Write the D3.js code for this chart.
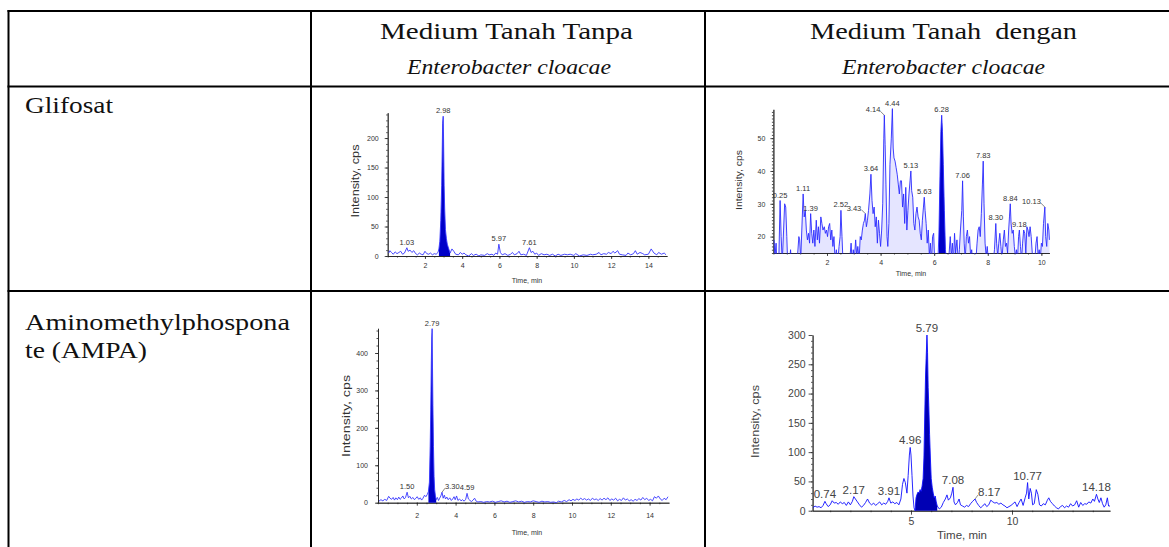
<!DOCTYPE html>
<html>
<head>
<meta charset="utf-8">
<script src="https://d3js.org/d3.v7.min.js"></script>
<style>
  body { margin: 0; background: #fff; }
  svg { display: block; }
</style>
</head>
<body>
<svg id="figure"></svg>
<script>

// ---- table text ----
const colHeads = ["Medium Tanah Tanpa", "Medium Tanah  dengan"];
const species = "Enterobacter cloacae";
const rowHeads = [["Glifosat"], ["Aminomethylphospona", "te (AMPA)"]];

// ---- Glifosat, without E. cloacae : [time min, intensity cps] ----
const glyNo = [
  [0.05,5],[0.12,9],[0.2,6],[0.3,3],[0.4,7],[0.5,4],[0.6,6],[0.7,8],[0.8,3],[0.9,5],[1.03,14],[1.1,8],[1.2,10],
  [1.3,6],[1.4,9],[1.5,4],[1.6,2],[1.7,5],[1.8,3],[1.9,2],[2.0,8],[2.1,4],[2.2,3],[2.3,5],[2.4,2],[2.5,4],[2.6,3],
  [2.7,6],[2.75,12],[2.8,25],[2.85,60],[2.9,120],[2.95,225],[2.98,237],[3.0,200],[3.03,120],[3.06,80],[3.1,45],
  [3.15,30],[3.2,20],[3.25,15],[3.3,10],[3.35,5],[3.45,12],[3.55,8],[3.65,3],[3.8,2],[3.9,6],[4.0,3],[4.1,5],
  [4.2,2],[4.35,0],[4.5,4],[4.6,1],[4.75,3],[4.9,0],[5.0,2],[5.2,1],[5.35,4],[5.45,2],[5.6,3],[5.7,1],[5.8,5],
  [5.9,3],[5.97,20],[6.05,6],[6.15,2],[6.3,4],[6.45,1],[6.6,3],[6.7,6],[6.8,2],[6.95,4],[7.05,8],[7.15,2],[7.3,3],
  [7.45,1],[7.61,14],[7.7,6],[7.8,8],[7.9,3],[8.0,5],[8.1,1],[8.25,4],[8.4,2],[8.55,3],[8.7,1],[8.85,3],[9.0,0],
  [9.15,3],[9.3,1],[9.5,3],[9.65,2],[9.8,3],[10.0,1],[10.1,4],[10.3,0],[10.5,2],[10.7,1],[10.9,3],[11.0,2],[11.2,3],
  [11.35,6],[11.45,2],[11.6,4],[11.75,3],[11.85,6],[12.0,4],[12.1,8],[12.2,5],[12.35,9],[12.45,3],[12.6,2],[12.8,1],
  [12.9,5],[13.05,2],[13.2,4],[13.3,9],[13.4,3],[13.55,6],[13.7,4],[13.8,2],[14.0,3],[14.15,12],[14.3,5],[14.45,2],
  [14.55,6],[14.7,3],[14.85,5],[14.95,2]
];
const glyNoPeaks = [[1.03,14],[2.98,237],[5.97,20],[7.61,14]];
const glyNoFill = [2.72, 3.36];
const glyNoXTicks = [2,4,6,8,10,12,14];
const glyNoYTicks = [0,50,100,150,200];

// ---- Glifosat, with E. cloacae ----
const glyWith = [
  [0.02,19],[0.06,14],[0.1,18],[0.14,10],[0.2,12],[0.25,31],[0.29,20],[0.33,12],[0.38,22],[0.42,30],[0.46,29],
  [0.5,20],[0.54,10],[0.6,12],[0.64,16],[0.68,11],[0.75,8],[0.8,12],[0.86,9],[0.9,14],[0.95,20],[0.98,19],[1.02,13],
  [1.06,22],[1.11,33],[1.15,26],[1.19,28],[1.23,22],[1.27,19],[1.31,21],[1.35,18],[1.39,27],[1.43,21],[1.47,18],
  [1.51,22],[1.55,17],[1.6,25],[1.64,19],[1.68,23],[1.72,18],[1.77,26],[1.81,24],[1.85,22],[1.9,23],[1.94,21],
  [1.98,22],[2.02,20],[2.06,23],[2.1,24],[2.14,19],[2.18,22],[2.22,17],[2.26,20],[2.3,13],[2.35,16],[2.4,12],
  [2.45,17],[2.49,20],[2.52,28],[2.56,20],[2.6,12],[2.66,10],[2.72,14],[2.78,9],[2.84,12],[2.9,18],[2.94,12],
  [2.98,16],[3.02,13],[3.07,19],[3.11,14],[3.15,17],[3.2,13],[3.24,20],[3.28,19],[3.32,22],[3.36,24],[3.4,25],
  [3.43,27],[3.47,23],[3.51,25],[3.55,28],[3.6,33],[3.64,39],[3.68,31],[3.72,27],[3.76,29],[3.8,23],[3.84,26],
  [3.88,18],[3.92,25],[3.96,21],[4.0,17],[4.04,22],[4.08,30],[4.12,50],[4.14,57],[4.17,48],[4.2,36],[4.24,20],
  [4.27,17],[4.31,24],[4.35,42],[4.4,50],[4.44,59],[4.47,47],[4.5,44],[4.54,43],[4.58,41],[4.62,39],[4.66,36],
  [4.7,33],[4.74,37],[4.78,37],[4.82,29],[4.86,33],[4.9,24],[4.94,35],[4.98,22],[5.02,28],[5.06,33],[5.1,37],
  [5.13,40],[5.16,34],[5.2,32],[5.24,24],[5.28,22],[5.32,27],[5.36,29],[5.4,26],[5.44,25],[5.48,21],[5.52,19],
  [5.56,25],[5.6,29],[5.63,32],[5.66,28],[5.7,24],[5.74,18],[5.78,22],[5.82,14],[5.86,18],[5.9,12],[5.94,20],
  [5.98,21],[6.02,12],[6.06,10],[6.1,14],[6.14,12],[6.18,22],[6.22,40],[6.25,52],[6.28,57],[6.31,52],[6.34,42],
  [6.38,28],[6.42,16],[6.46,12],[6.5,10],[6.55,14],[6.6,20],[6.64,14],[6.68,18],[6.72,12],[6.76,21],[6.8,15],
  [6.85,19],[6.9,12],[6.94,16],[6.98,22],[7.03,28],[7.06,37],[7.09,26],[7.12,18],[7.16,13],[7.2,20],[7.24,22],
  [7.28,18],[7.32,20],[7.36,14],[7.4,16],[7.45,11],[7.5,15],[7.55,12],[7.6,18],[7.64,22],[7.68,23],[7.72,20],
  [7.76,27],[7.8,36],[7.83,43],[7.86,30],[7.9,18],[7.94,14],[7.98,17],[8.02,13],[8.06,15],[8.1,11],[8.15,14],
  [8.2,12],[8.25,16],[8.3,24],[8.33,18],[8.37,14],[8.41,18],[8.45,21],[8.49,17],[8.53,13],[8.58,19],[8.62,22],
  [8.66,17],[8.7,18],[8.74,15],[8.78,22],[8.81,26],[8.84,30],[8.87,24],[8.91,21],[8.95,22],[8.99,17],[9.03,14],
  [9.07,16],[9.11,13],[9.15,20],[9.18,22],[9.22,17],[9.26,13],[9.3,18],[9.34,22],[9.38,21],[9.42,15],[9.46,23],
  [9.5,22],[9.54,20],[9.58,23],[9.62,20],[9.66,15],[9.7,13],[9.75,12],[9.8,18],[9.84,20],[9.88,14],[9.92,16],
  [9.96,13],[10.0,18],[10.04,17],[10.08,24],[10.13,29],[10.16,20],[10.2,17],[10.24,24],[10.28,22],[10.3,19]
];
const glyWithPeaks = [[0.25,31],[1.11,33],[1.39,27],[2.52,28],[3.43,27],[3.64,39],[4.14,57],[4.44,59],[5.13,40],
  [5.63,32],[6.28,57],[7.06,37],[7.83,43],[8.30,24],[8.84,30],[9.18,22],[10.13,29]];
const glyWithLeadLeft = [3.43, 4.14, 10.13];
const glyWithFill = [6.16, 6.46];
const glyWithXTicks = [2,4,6,8,10];
const glyWithYTicks = [20,30,40,50];

// ---- AMPA, without E. cloacae ----
const ampaNo = [
  [0.05,4],[0.15,8],[0.25,5],[0.35,9],[0.45,6],[0.55,17],[0.62,12],[0.7,9],[0.78,14],[0.85,7],[0.92,13],[1.0,8],
  [1.07,15],[1.14,9],[1.2,12],[1.28,18],[1.35,10],[1.42,14],[1.5,28],[1.57,13],[1.64,17],[1.72,10],[1.8,14],[1.88,8],
  [1.95,12],[2.02,16],[2.1,9],[2.18,13],[2.25,7],[2.32,12],[2.4,20],[2.47,16],[2.54,22],[2.6,30],[2.65,55],[2.69,150],
  [2.72,250],[2.75,380],[2.77,440],[2.79,465],[2.81,360],[2.83,260],[2.86,150],[2.89,70],[2.92,35],[2.96,18],[3.0,8],
  [3.06,14],[3.12,6],[3.18,12],[3.24,18],[3.3,28],[3.36,12],[3.42,20],[3.48,10],[3.55,15],[3.62,8],[3.7,13],[3.78,6],
  [3.85,10],[3.92,16],[3.98,8],[4.05,18],[4.12,6],[4.2,10],[4.28,5],[4.36,8],[4.44,4],[4.52,9],[4.59,25],[4.66,10],
  [4.74,6],[4.82,3],[4.9,7],[4.98,12],[5.06,4],[5.15,2],[5.3,3],[5.45,1],[5.6,3],[5.75,2],[5.9,4],[6.05,1],[6.2,3],
  [6.35,5],[6.5,2],[6.65,4],[6.8,1],[6.95,3],[7.1,5],[7.25,2],[7.4,4],[7.55,1],[7.7,3],[7.85,2],[8.0,5],[8.15,3],
  [8.3,1],[8.45,4],[8.6,2],[8.75,3],[8.9,1],[9.05,2],[9.2,0],[9.3,4],[9.45,2],[9.6,6],[9.72,3],[9.85,8],[9.95,5],
  [10.05,9],[10.15,6],[10.25,10],[10.35,7],[10.45,12],[10.55,8],[10.65,11],[10.75,7],[10.85,10],[10.95,6],[11.05,12],
  [11.15,8],[11.25,10],[11.35,6],[11.45,11],[11.55,7],[11.65,12],[11.75,8],[11.85,13],[11.95,6],[12.05,10],[12.15,7],
  [12.25,12],[12.35,5],[12.45,9],[12.55,6],[12.65,13],[12.75,7],[12.85,10],[12.95,5],[13.05,8],[13.15,4],[13.25,9],
  [13.35,6],[13.45,11],[13.55,7],[13.65,14],[13.75,8],[13.85,12],[13.95,6],[14.05,9],[14.15,5],[14.25,16],[14.35,12],
  [14.45,18],[14.55,10],[14.65,6],[14.75,12],[14.85,8],[14.95,16]
];
const ampaNoPeaks = [[1.50,28],[2.79,465],[3.30,28],[4.59,25]];
const ampaNoLeadRight = [3.30];
const ampaNoFill = [2.55, 3.0];
const ampaNoXTicks = [2,4,6,8,10,12,14];
const ampaNoYTicks = [0,100,200,300,400];

// ---- AMPA, with E. cloacae ----
const ampaWith = [
  [0.15,5],[0.25,8],[0.35,6],[0.45,7],[0.55,5],[0.65,9],[0.74,16],[0.8,12],[0.9,7],[1.0,10],[1.1,17],[1.2,13],[1.3,14],
  [1.4,11],[1.5,15],[1.6,12],[1.7,14],[1.8,9],[1.9,15],[2.0,10],[2.1,16],[2.17,24],[2.25,20],[2.35,15],[2.45,10],
  [2.55,6],[2.65,9],[2.75,14],[2.85,20],[2.95,13],[3.05,10],[3.15,13],[3.25,9],[3.35,12],[3.45,15],[3.55,10],[3.65,13],
  [3.75,11],[3.85,16],[3.91,22],[4.0,13],[4.1,15],[4.2,12],[4.3,14],[4.4,10],[4.5,20],[4.58,45],[4.65,55],[4.72,48],
  [4.8,30],[4.86,60],[4.92,95],[4.96,108],[5.0,95],[5.05,60],[5.1,25],[5.15,5],[5.2,0],[5.25,22],[5.3,28],[5.35,32],
  [5.4,30],[5.45,36],[5.5,33],[5.55,42],[5.6,55],[5.64,90],[5.68,160],[5.72,230],[5.75,260],[5.79,300],[5.82,270],
  [5.85,210],[5.88,180],[5.92,130],[5.96,90],[6.0,55],[6.05,40],[6.1,30],[6.15,22],[6.2,25],[6.25,15],[6.3,8],[6.4,3],
  [6.5,6],[6.6,14],[6.7,20],[6.78,27],[6.85,18],[6.95,22],[7.02,30],[7.08,40],[7.13,15],[7.2,10],[7.3,14],[7.38,20],
  [7.45,10],[7.55,8],[7.65,6],[7.75,9],[7.85,7],[7.95,12],[8.05,16],[8.17,20],[8.25,14],[8.35,9],[8.45,5],[8.55,8],
  [8.65,12],[8.75,7],[8.85,10],[8.95,18],[9.05,15],[9.15,13],[9.25,14],[9.35,11],[9.45,13],[9.55,10],[9.65,8],[9.75,5],
  [9.85,7],[9.95,9],[10.05,12],[10.15,15],[10.25,7],[10.35,14],[10.45,20],[10.55,9],[10.65,22],[10.72,30],[10.77,48],
  [10.83,20],[10.9,38],[10.96,30],[11.02,10],[11.1,12],[11.2,36],[11.28,28],[11.36,10],[11.45,8],[11.55,12],[11.65,10],
  [11.75,18],[11.82,22],[11.9,16],[12.0,12],[12.1,8],[12.2,5],[12.3,3],[12.4,7],[12.5,9],[12.6,5],[12.7,8],[12.8,6],
  [12.9,12],[13.0,8],[13.1,10],[13.2,17],[13.3,6],[13.4,14],[13.5,9],[13.6,12],[13.7,11],[13.8,15],[13.9,13],[14.0,20],
  [14.08,16],[14.18,28],[14.25,20],[14.32,14],[14.4,22],[14.48,12],[14.56,6],[14.64,10],[14.72,22],[14.78,8],[14.85,8]
];
const ampaWithPeaks = [[0.74,16],[2.17,24],[3.91,22],[4.96,108],[5.79,300],[7.08,40],[8.17,20],[10.77,48],[14.18,28]];
const ampaWithLeadRight = [8.17];
const ampaWithFill = [5.2, 6.35];
const ampaWithXTicks = [5,10];
const ampaWithYTicks = [0,50,100,150,200,250,300];


class Chromatogram {

  constructor(_config, _data, _peaks) {
    this.config = {
      parentElement: _config.parentElement,
      xRange: _config.xRange,
      yRange: _config.yRange,
      xDomain: _config.xDomain,
      yDomain: _config.yDomain,
      xTicks: _config.xTicks,
      yTicks: _config.yTicks,
      xMinor: _config.xMinor || 0.5,
      yMinor: _config.yMinor || 10,
      fill: _config.fill,
      haze: _config.haze || 0,
      leadLeft: _config.leadLeft || [],
      leadRight: _config.leadRight || [],
      tickFont: _config.tickFont || 7,
      tickSize: _config.tickSize || 3,
      xPad: _config.xPad || 4,
      yPad: _config.yPad || 6,
      peakFont: _config.peakFont || 7.5,
      yTitle: _config.yTitle,
      xTitle: _config.xTitle,
      family: _config.family || "'Liberation Sans Narrow', 'Liberation Sans', Arial, sans-serif",
      textColor: _config.textColor || "#333",
      lineColor: _config.lineColor || "#2222ff",
      fillColor: _config.fillColor || "#0000c8",
      id: _config.id
    }
    this.data = _data;
    this.peaks = _peaks;
    this.initVis();
  }

  initVis() {
    let vis = this;
    let cfg = vis.config;

    vis.chart = cfg.parentElement.append('g');

    vis.xScale = d3.scaleLinear().domain(cfg.xDomain).range(cfg.xRange);
    vis.yScale = d3.scaleLinear().domain(cfg.yDomain).range(cfg.yRange);

    // clip so the trace stays inside the axes
    vis.chart.append('clipPath').attr('id', 'clip-' + cfg.id)
      .append('rect')
        .attr('x', cfg.xRange[0])
        .attr('y', cfg.yRange[1] - 12)
        .attr('width', cfg.xRange[1] - cfg.xRange[0] + 1)
        .attr('height', cfg.yRange[0] - cfg.yRange[1] + 12.5);

    // minor ticks
    let xMinor = d3.range(Math.ceil(cfg.xDomain[0] / cfg.xMinor) * cfg.xMinor, cfg.xDomain[1], cfg.xMinor);
    let yMinor = d3.range(Math.ceil(cfg.yDomain[0] / cfg.yMinor) * cfg.yMinor, cfg.yDomain[1], cfg.yMinor);

    vis.chart.append('g')
      .attr('transform', `translate(0,${cfg.yRange[0]})`)
      .call(d3.axisBottom(vis.xScale).tickValues(xMinor).tickSize(1.5).tickSizeOuter(0).tickFormat(''));
    vis.xAxisG = vis.chart.append('g')
      .attr('transform', `translate(0,${cfg.yRange[0]})`)
      .call(d3.axisBottom(vis.xScale).tickValues(cfg.xTicks).tickSize(cfg.tickSize).tickSizeOuter(0)
        .tickPadding(cfg.xPad).tickFormat(d3.format('d')));

    vis.chart.append('g')
      .attr('transform', `translate(${cfg.xRange[0]},0)`)
      .call(d3.axisLeft(vis.yScale).tickValues(yMinor).tickSize(1.5).tickSizeOuter(0).tickFormat(''));
    vis.yAxisG = vis.chart.append('g')
      .attr('transform', `translate(${cfg.xRange[0]},0)`)
      .call(d3.axisLeft(vis.yScale).tickValues(cfg.yTicks).tickSize(cfg.tickSize).tickSizeOuter(0)
        .tickPadding(cfg.yPad).tickFormat(d3.format('d')));

    vis.chart.selectAll('.domain, .tick line').attr('stroke', '#222').attr('stroke-width', 0.8);
    vis.chart.selectAll('.tick text')
      .attr('fill', cfg.textColor)
      .style('font-family', cfg.family)
      .style('font-size', cfg.tickFont + 'px');

    // axis titles
    vis.chart.append('text')
      .attr('transform', `translate(${cfg.yTitle.x},${cfg.yTitle.y}) rotate(-90)`)
      .attr('text-anchor', 'middle')
      .attr('dy', '0.35em')
      .attr('textLength', cfg.yTitle.len)
      .attr('lengthAdjust', 'spacingAndGlyphs')
      .attr('fill', cfg.textColor)
      .style('font-family', "'Liberation Sans', Arial, sans-serif")
      .style('font-size', cfg.yTitle.size + 'px')
      .text('Intensity, cps');

    vis.chart.append('text')
      .attr('x', cfg.xTitle.x)
      .attr('y', cfg.xTitle.y)
      .attr('text-anchor', 'middle')
      .attr('fill', cfg.textColor)
      .style('font-family', cfg.xTitle.size > 9 ? "'Liberation Sans', Arial, sans-serif" : cfg.family)
      .style('font-size', cfg.xTitle.size + 'px')
      .text('Time, min');

    vis.updateVis();
  }

  updateVis() {
    let vis = this;
    let cfg = vis.config;

    let plot = vis.chart.append('g').attr('clip-path', `url(#clip-${cfg.id})`);

    // pale shading under a dense trace
    if (cfg.haze > 0) {
      plot.append('path')
        .datum(vis.data)
        .attr('fill', cfg.lineColor)
        .attr('fill-opacity', cfg.haze)
        .attr('d', d3.area()
          .x(d => vis.xScale(d[0]))
          .y0(cfg.yRange[0])
          .y1(d => vis.yScale(d[1])));
    }

    // integrated (filled) peak
    let fillData = vis.data.filter(d => d[0] >= cfg.fill[0] && d[0] <= cfg.fill[1]);
    plot.append('path')
      .datum(fillData)
      .attr('fill', cfg.fillColor)
      .attr('d', d3.area()
        .x(d => vis.xScale(d[0]))
        .y0(cfg.yRange[0])
        .y1(d => vis.yScale(d[1])));

    plot.append('path')
      .datum(vis.data)
      .attr('fill', 'none')
      .attr('stroke', cfg.lineColor)
      .attr('stroke-width', 0.9)
      .attr('stroke-linejoin', 'round')
      .attr('d', d3.line()
        .x(d => vis.xScale(d[0]))
        .y(d => vis.yScale(d[1])));

    // peak labels
    let fmt = d3.format('.2f');
    vis.chart.selectAll('.peak')
      .data(vis.peaks)
      .join('text')
        .attr('class', 'peak')
        .attr('x', d => {
          if (cfg.leadLeft.includes(d[0])) return vis.xScale(d[0]) - 4;
          if (cfg.leadRight.includes(d[0])) return vis.xScale(d[0]) + 3;
          return vis.xScale(d[0]);
        })
        .attr('y', d => vis.yScale(d[1]) - 3)
        .attr('text-anchor', d => cfg.leadLeft.includes(d[0]) ? 'end' : (cfg.leadRight.includes(d[0]) ? 'start' : 'middle'))
        .attr('fill', cfg.textColor)
        .style('font-family', cfg.family)
        .style('font-size', cfg.peakFont + 'px')
        .text(d => fmt(d[0]));

    vis.chart.selectAll('.lead')
      .data(vis.peaks.filter(d => cfg.leadLeft.includes(d[0]) || cfg.leadRight.includes(d[0])))
      .join('line')
        .attr('class', 'lead')
        .attr('x1', d => vis.xScale(d[0]) + (cfg.leadLeft.includes(d[0]) ? -4 : 3))
        .attr('y1', d => vis.yScale(d[1]) - 4)
        .attr('x2', d => vis.xScale(d[0]))
        .attr('y2', d => vis.yScale(d[1]))
        .attr('stroke', cfg.textColor)
        .attr('stroke-width', 0.6);
  }
}


const W = 1169, H = 547;
const svg = d3.select('#figure').attr('width', W).attr('height', H);
svg.append('rect').attr('width', W).attr('height', H).attr('fill', '#fff');

// table grid
const colX = [8.5, 311, 705];
const rowY = [11, 86.5, 291];
const grid = svg.append('g').attr('stroke', '#000').attr('stroke-width', 2);
rowY.forEach(y => grid.append('line').attr('x1', colX[0] - 1).attr('x2', W).attr('y1', y).attr('y2', y));
colX.forEach(x => grid.append('line').attr('x1', x).attr('x2', x).attr('y1', rowY[0] - 1).attr('y2', H));

function cellText(txt, x, y, len, size, italic) {
  svg.append('text')
    .attr('x', x)
    .attr('y', y)
    .attr('textLength', len)
    .attr('lengthAdjust', 'spacingAndGlyphs')
    .attr('fill', '#111')
    .style('font-family', "'Liberation Serif', 'Times New Roman', serif")
    .style('font-size', size + 'px')
    .style('font-style', italic ? 'italic' : 'normal')
    .style('white-space', 'pre')
    .text(txt);
}

cellText(colHeads[0], 380, 39, 253, 23, false);
cellText(species, 407, 74, 204, 21, true);
cellText(colHeads[1], 810, 39, 267, 23, false);
cellText(species, 842, 74, 203, 21, true);
cellText(rowHeads[0][0], 25, 113, 88, 24, false);
cellText(rowHeads[1][0], 25, 330, 265, 24, false);
cellText(rowHeads[1][1], 25, 358, 122, 24, false);

// chromatograms
new Chromatogram({
  parentElement: svg, id: 'gn',
  xRange: [387.7, 667], yRange: [256, 112.7],
  xDomain: [0, 15], yDomain: [0, 243],
  xTicks: glyNoXTicks, yTicks: glyNoYTicks,
  xMinor: 0.5, yMinor: 10,
  fill: glyNoFill,
  yTitle: { x: 355, y: 181, len: 73, size: 11 },
  xTitle: { x: 527, y: 283, size: 7 },
  lineColor: '#3535ff'
}, glyNo, glyNoPeaks);

new Chromatogram({
  parentElement: svg, id: 'gw',
  xRange: [773.4, 1049.4], yRange: [253, 109.3],
  xDomain: [0, 10.3], yDomain: [15, 58.8],
  xTicks: glyWithXTicks, yTicks: glyWithYTicks,
  xMinor: 0.5, yMinor: 1,
  fill: glyWithFill,
  haze: 0.12,
  leadLeft: glyWithLeadLeft,
  yPad: 5,
  yTitle: { x: 739, y: 180, len: 60, size: 9.5 },
  xTitle: { x: 911, y: 276, size: 7 },
  lineColor: '#2a2aff'
}, glyWith, glyWithPeaks);

new Chromatogram({
  parentElement: svg, id: 'an',
  xRange: [378, 669], yRange: [502.7, 328.3],
  xDomain: [0, 15], yDomain: [0, 466],
  xTicks: ampaNoXTicks, yTicks: ampaNoYTicks,
  xMinor: 0.5, yMinor: 20,
  fill: ampaNoFill,
  leadRight: ampaNoLeadRight,
  xPad: 7, yPad: 7,
  yTitle: { x: 346, y: 416, len: 82, size: 10.5 },
  xTitle: { x: 527, y: 535, size: 7 },
  lineColor: '#3535ff'
}, ampaNo, ampaNoPeaks);

new Chromatogram({
  parentElement: svg, id: 'aw',
  xRange: [812.6, 1110], yRange: [510.7, 335],
  xDomain: [0.13, 14.85], yDomain: [0, 300],
  xTicks: ampaWithXTicks, yTicks: ampaWithYTicks,
  xMinor: 1, yMinor: 10,
  fill: ampaWithFill,
  leadRight: ampaWithLeadRight,
  tickFont: 10.5, tickSize: 4, xPad: 3, yPad: 3,
  peakFont: 11.5,
  yTitle: { x: 755, y: 421.5, len: 73, size: 11.5 },
  xTitle: { x: 962, y: 539, size: 11.5 },
  family: "'Liberation Sans', Arial, sans-serif",
  textColor: '#444',
  lineColor: '#1010ff',
  fillColor: '#0000b4'
}, ampaWith, ampaWithPeaks);

</script>
</body>
</html>
